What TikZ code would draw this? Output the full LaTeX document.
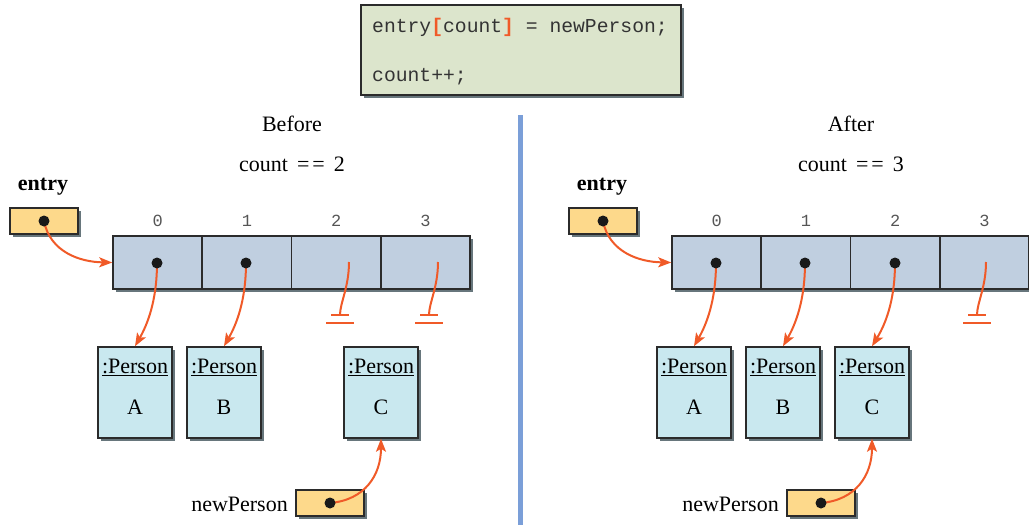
\documentclass[tikz,border=0pt]{standalone}
\usepackage{fontspec}
\setmainfont{Liberation Serif}
\setmonofont{Liberation Mono}
\usetikzlibrary{arrows.meta,positioning,shadows}
\definecolor{codebg}{HTML}{DCE5CC}
\definecolor{ptrbg}{HTML}{FDD98B}
\definecolor{arrbg}{HTML}{C0CFE0}
\definecolor{objbg}{HTML}{C9E8EF}
\definecolor{shad}{HTML}{67767C}
\definecolor{redl}{HTML}{F05A28}
\definecolor{sepblue}{HTML}{7B9FD8}
\definecolor{edge}{HTML}{2B2B2B}
\definecolor{idxgray}{HTML}{555555}
\tikzset{
  boxbase/.style={draw=edge,line width=1.5pt,inner sep=0pt,
    drop shadow={shadow xshift=3pt,shadow yshift=-3pt,fill=shad,opacity=1}},
  ptrbox/.style={boxbase,fill=ptrbg,minimum width=68pt,minimum height=26pt},
  cellbox/.style={draw=edge,line width=1.5pt,fill=arrbg,minimum width=89.25pt,minimum height=53pt,inner sep=0pt},
  objbox/.style={boxbase,fill=objbg,minimum width=74pt,minimum height=91pt},
  codebox/.style={boxbase,fill=codebg,minimum width=320pt,minimum height=90pt},
  dot/.style={circle,inner sep=0pt,minimum size=12pt},
  ref/.style={draw=redl,line width=2pt,-{Stealth[length=13pt,width=10pt,inset=3pt]}},
  nullln/.style={draw=redl,line width=2pt},
  lbl/.style={font=\fontsize{22}{24}\selectfont,inner sep=0pt},
  idx/.style={font=\ttfamily\fontsize{17}{19}\selectfont,text=idxgray,inner sep=0pt},
  code/.style={font=\ttfamily\fontsize{19.7}{22}\selectfont,text=black!80,inner sep=0pt,anchor=west}
}
\newcommand{\eqeq}{\hspace{9pt}=\hspace{3pt}=\hspace{9pt}}
\newcommand{\blackdot}[1]{\fill[black!90] (#1.center) circle[radius=5.5pt];}
\begin{document}
\begin{tikzpicture}[x=1pt,y=-1pt]
\useasboundingbox (0,0) rectangle (1029,525);
% code box
\node[codebox] (code) at (521,50) {};
\node[code] (l1) at (372,27) {entry\textcolor{redl}{\textbf{[}}count\textcolor{redl}{\textbf{]}} = newPerson;};
\node[code] (l2) at (372,77) {count++;};
% separator
\draw[sepblue,line width=5pt] (520.5,115) -- (520.5,525);

% ===== Before =====
\node[lbl] (before) at (292,124) {Before};
\node[lbl] (cnt1) at (292,164) {count\eqeq2};
\node[lbl,font=\fontsize{22}{24}\selectfont\bfseries] (entry1) at (43,187) {entry};
\node[ptrbox] (ep1) at (44,221) {};
\node[dot] (ed1) at (44,221) {};
% array
\fill[shad] (116,239) rectangle (473,292);
\foreach \i/\x in {0/157.6,1/246.9,2/336.1,3/425.4}{
  \node[cellbox] (a1c\i) at (\x,262.5) {};
  \node[idx] (a1i\i) at (\x,221) {\i};
}
\node[dot] (a1d0) at (157,263) {};
\node[dot] (a1d1) at (246,263) {};
% objects
\node[objbox] (pA1) at (135,392.5) {};
\node[objbox] (pB1) at (224,392.5) {};
\node[objbox] (pC1) at (381,392.5) {};
\foreach \p/\l in {pA1/A,pB1/B,pC1/C}{
  \node[lbl] at ([yshift=-21pt]\p.north) {\underline{:Person}};
  \node[lbl] at ([yshift=-61pt]\p.north) {\l};
}
\node[ptrbox] (np1) at (330,503) {};
\node[dot] (nd1) at (330,503) {};
\node[lbl,anchor=east] (npl1) at (288,504) {newPerson};
% connectors
\draw[ref] (ed1.center) .. controls (50,252) and (80,262) .. (a1c0.west);
\draw[ref] (a1d0.center) .. controls (157,295) and (150,320) .. (pA1.north);
\draw[ref] (a1d1.center) .. controls (246,295) and (239,320) .. (pB1.north);
\draw[ref] (nd1.center) .. controls (365,500) and (381,475) .. (pC1.south);
\coordinate (g2a) at (349,262);
\coordinate (g2b) at (340,315);
\coordinate (g3a) at (438,262);
\coordinate (g3b) at (429,315);
\foreach \g in {g2,g3}{
  \draw[nullln] (\g a) .. controls ([yshift=-25pt]\g a) and ([yshift=12pt]\g b) .. (\g b);
  \draw[nullln] ([xshift=-9pt]\g b) -- ([xshift=9pt]\g b);
  \draw[nullln] ([xshift=-14pt,yshift=-8pt]\g b) -- ([xshift=14pt,yshift=-8pt]\g b);
}
\blackdot{ed1}\blackdot{a1d0}\blackdot{a1d1}\blackdot{nd1}

% ===== After =====
\node[lbl] (after) at (851,124) {After};
\node[lbl] (cnt2) at (851,164) {count\eqeq3};
\node[lbl,font=\fontsize{22}{24}\selectfont\bfseries] (entry2) at (602,187) {entry};
\node[ptrbox] (ep2) at (603,221) {};
\node[dot] (ed2) at (603,221) {};
\fill[shad] (675,239) rectangle (1032,292);
\foreach \i/\x in {0/716.6,1/805.9,2/895.1,3/984.4}{
  \node[cellbox] (a2c\i) at (\x,262.5) {};
  \node[idx] (a2i\i) at (\x,221) {\i};
}
\node[dot] (a2d0) at (716,263) {};
\node[dot] (a2d1) at (805,263) {};
\node[dot] (a2d2) at (895,263) {};
\node[objbox] (pA2) at (694,392.5) {};
\node[objbox] (pB2) at (783,392.5) {};
\node[objbox] (pC2) at (872,392.5) {};
\foreach \p/\l in {pA2/A,pB2/B,pC2/C}{
  \node[lbl] at ([yshift=-21pt]\p.north) {\underline{:Person}};
  \node[lbl] at ([yshift=-61pt]\p.north) {\l};
}
\node[ptrbox] (np2) at (821,503) {};
\node[dot] (nd2) at (821,503) {};
\node[lbl,anchor=east] (npl2) at (779,504) {newPerson};
\draw[ref] (ed2.center) .. controls (609,252) and (639,262) .. (a2c0.west);
\draw[ref] (a2d0.center) .. controls (716,295) and (709,320) .. (pA2.north);
\draw[ref] (a2d1.center) .. controls (805,295) and (798,320) .. (pB2.north);
\draw[ref] (a2d2.center) .. controls (895,295) and (888,320) .. (pC2.north);
\draw[ref] (nd2.center) .. controls (856,500) and (872,475) .. (pC2.south);
\coordinate (h3a) at (986,262);
\coordinate (h3b) at (977,315);
\draw[nullln] (h3a) .. controls ([yshift=-25pt]h3a) and ([yshift=12pt]h3b) .. (h3b);
\draw[nullln] ([xshift=-9pt]h3b) -- ([xshift=9pt]h3b);
\draw[nullln] ([xshift=-14pt,yshift=-8pt]h3b) -- ([xshift=14pt,yshift=-8pt]h3b);
\blackdot{ed2}\blackdot{a2d0}\blackdot{a2d1}\blackdot{a2d2}\blackdot{nd2}
\end{tikzpicture}
\end{document}
